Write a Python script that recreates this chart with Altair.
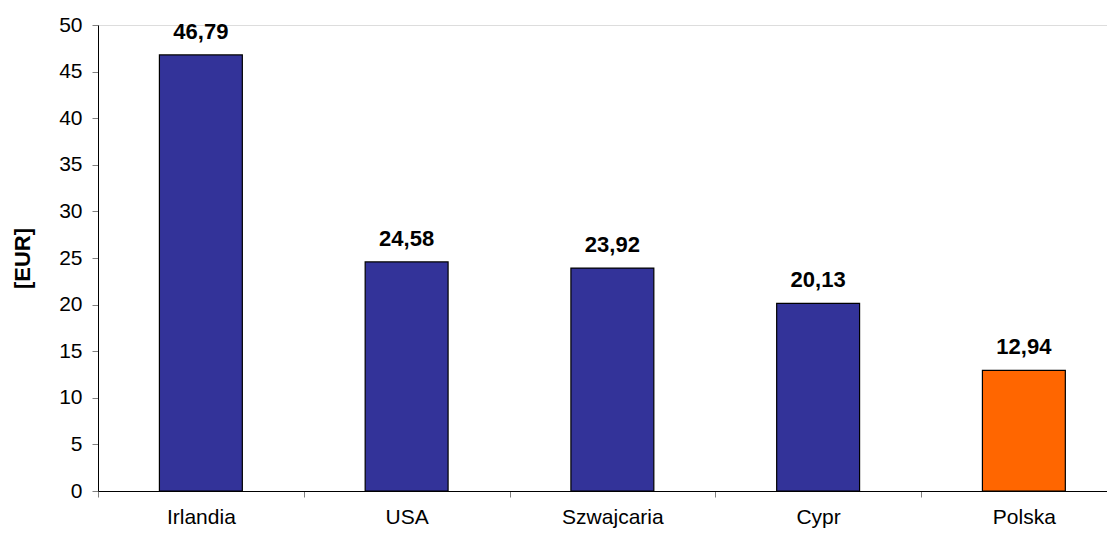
import altair as alt
import pandas as pd

categories = ["Irlandia", "USA", "Szwajcaria", "Cypr", "Polska"]
values = [46.79, 24.58, 23.92, 20.13, 12.94]
labels = ["46,79", "24,58", "23,92", "20,13", "12,94"]
colors = ["#333399", "#333399", "#333399", "#333399", "#FF6600"]

df = pd.DataFrame({"kraj": categories, "wartosc": values, "etykieta": labels, "kolor": colors})

FONT = "Liberation Sans"
STEP = 205.75

x = alt.X("kraj:N", sort=categories, title=None,
          scale=alt.Scale(range=[0, STEP * 5], paddingInner=0.597, paddingOuter=0.2985),
          axis=alt.Axis(tickOffset=-STEP / 2, labelOffset=STEP / 2, labelAngle=0, labelFontSize=21,
                        labelFont=FONT, labelColor="#000000", labelPadding=9,
                        tickSize=6, tickColor="#808080", domainColor="#000000",
                        grid=False))
y = alt.Y("wartosc:Q", title="[EUR]",
          scale=alt.Scale(domain=[0, 50], nice=False),
          axis=alt.Axis(values=list(range(0, 51, 5)), labelFontSize=21, labelFont=FONT,
                        labelColor="#000000", labelPadding=10, tickSize=6,
                        tickColor="#808080", domainColor="#000000", grid=False,
                        titleFont=FONT, titleFontSize=22, titleFontWeight="bold",
                        titleColor="#000000", titlePadding=24))

bars = alt.Chart(df).mark_bar(stroke="#000000", strokeWidth=1.2).encode(
    x=x, y=y, color=alt.Color("kolor:N", scale=None))

text = alt.Chart(df).mark_text(baseline="alphabetic", dy=-16, fontSize=22, fontWeight="bold",
                               font=FONT, color="#000000").encode(
    x=alt.X("kraj:N", sort=categories), y="wartosc:Q", text="etykieta:N")

chart = (bars + text).properties(
    width=1009, height=466,
    autosize=alt.AutoSizeParams(type="none"),
    padding={"left": 90, "top": 17, "right": 0, "bottom": 37},
).configure_view(stroke=None).configure(background="#ffffff")

chart.save("out.html", embed_options={"renderer": "svg", "actions": False})
